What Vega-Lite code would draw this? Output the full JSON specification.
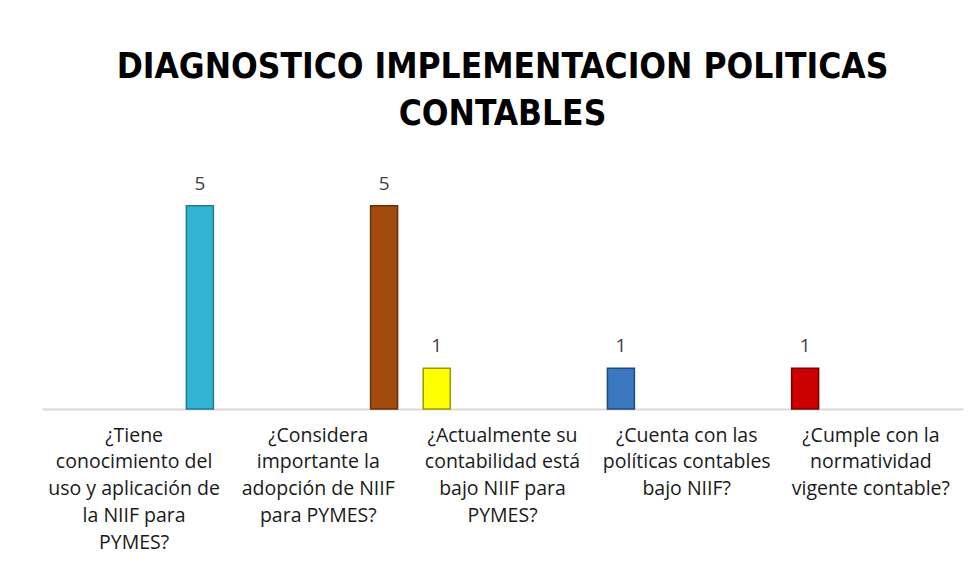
{
  "$schema": "https://vega.github.io/schema/vega-lite/v6.json",
  "width": 921,
  "height": 244,
  "autosize": {"type": "none"},
  "padding": {"left": 42, "top": 165, "right": 17, "bottom": 170},
  "background": "white",
  "title": {
    "text": ["DIAGNOSTICO IMPLEMENTACION POLITICAS", "CONTABLES"],
    "font": "DejaVu Sans Condensed",
    "fontSize": 35,
    "fontWeight": "bold",
    "color": "#000000",
    "anchor": "middle",
    "lineHeight": 47,
    "offset": 33
  },
  "data": {
    "values": [
      {"pregunta": "¿Tiene\nconocimiento del\nuso y aplicación de\nla NIIF para\nPYMES?", "serie": "Serie 2", "valor": 5},
      {"pregunta": "¿Considera\nimportante la\nadopción de NIIF\npara PYMES?", "serie": "Serie 2", "valor": 5},
      {"pregunta": "¿Actualmente su\ncontabilidad está\nbajo NIIF para\nPYMES?", "serie": "Serie 1", "valor": 1},
      {"pregunta": "¿Cuenta con las\npolíticas contables\nbajo NIIF?", "serie": "Serie 1", "valor": 1},
      {"pregunta": "¿Cumple con la\nnormatividad\nvigente contable?", "serie": "Serie 1", "valor": 1}
    ]
  },
  "encoding": {
    "x": {
      "field": "pregunta",
      "type": "nominal",
      "sort": null,
      "scale": {"paddingInner": 0, "paddingOuter": 0},
      "axis": {
        "title": null,
        "labelAngle": 0,
        "labelExpr": "split(datum.label, '\\n')",
        "labelFont": "Open Sans",
        "labelFontSize": 19.5,
        "labelColor": "#1a1a1a",
        "labelLineHeight": 26.8,
        "labelLimit": 0,
        "labelOverlap": false,
        "labelPadding": 17,
        "labelBaseline": "top",
        "ticks": false,
        "domainColor": "#D9D9D9",
        "domainWidth": 2
      }
    },
    "xOffset": {
      "field": "serie",
      "type": "nominal",
      "scale": {"domain": ["Serie 1", "Serie 2"], "paddingInner": 0.6, "paddingOuter": 0}
    },
    "y": {
      "field": "valor",
      "type": "quantitative",
      "scale": {"domain": [0, 6]},
      "axis": null
    }
  },
  "layer": [
    {
      "mark": {"type": "bar", "width": 27, "strokeWidth": 1.5},
      "encoding": {
        "color": {
          "field": "pregunta",
          "type": "nominal",
          "sort": null,
          "scale": {"range": ["#33B4D4", "#A34A0E", "#FFFF00", "#3C78C0", "#CC0000"]},
          "legend": null
        },
        "stroke": {
          "field": "pregunta",
          "type": "nominal",
          "sort": null,
          "scale": {"range": ["#22788E", "#6A2F08", "#9A9A00", "#1F4A7C", "#7A0000"]},
          "legend": null
        }
      }
    },
    {
      "mark": {"type": "text", "dy": -22, "font": "Open Sans", "fontSize": 19, "color": "#404040", "baseline": "middle"},
      "encoding": {
        "text": {"field": "valor", "type": "quantitative"}
      }
    }
  ],
  "config": {
    "view": {"stroke": null}
  }
}
